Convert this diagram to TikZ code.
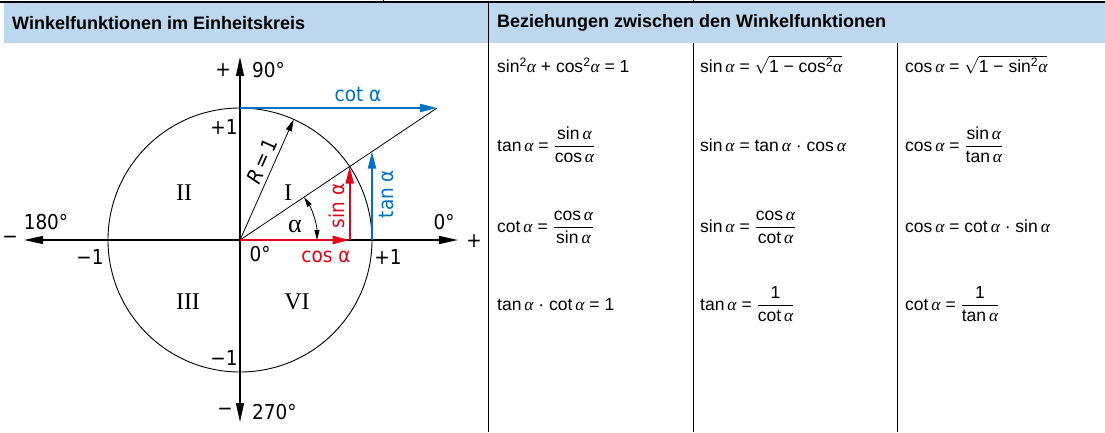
\documentclass[tikz,border=0pt]{standalone}
\usepackage{fontspec}
\setmainfont{Liberation Sans}
\newfontfamily\isofont[FakeStretch=0.9]{DejaVu Sans}
\newfontfamily\romfont{Liberation Serif}
\usetikzlibrary{arrows.meta}
\definecolor{hdrblue}{RGB}{189,215,238}
\definecolor{lineblue}{RGB}{0,112,192}
\definecolor{linered}{RGB}{226,0,26}
\newcommand{\al}{{\romfont\itshape α}}
\newcommand{\fx}[1]{#1\,\al}
\newcommand{\fr}[2]{${\displaystyle\frac{\mbox{#1}}{\mbox{#2}}}$}
\begin{document}
\begin{tikzpicture}[x=1pt,y=1pt,
  axisline/.style={line width=1.2pt,{Triangle[length=19pt,width=8pt]}-{Triangle[length=19pt,width=8pt]}},
  vec/.style={line width=2pt,-{Triangle[length=17pt,width=8pt]}},
  lbl/.style={font=\isofont\fontsize{20.5}{23}\selectfont,inner sep=0pt},
  rom/.style={font=\romfont\fontsize{24}{26}\selectfont,inner sep=0pt},
  hdr/.style={font=\bfseries\fontsize{18}{20}\selectfont,anchor=west,inner sep=0pt},
  fml/.style={font=\fontsize{17.5}{20}\selectfont,anchor=base west,inner sep=0pt},
  tablerule/.style={line width=1pt}
]
\useasboundingbox (0,0) rectangle (1105,432);
% table frame
\fill[hdrblue] (4,389) rectangle (1105,429);
\draw[line width=2pt] (0,430) -- (1105,430);
\draw[line width=1pt] (383,430) -- (383,432);
\draw[line width=1pt] (693,430) -- (693,432);
\draw[tablerule] (488,0) -- (488,431);
\draw[tablerule] (693,0) -- (693,389);
\draw[tablerule] (897,0) -- (897,389);
\node[hdr] (h1) at (12,409) {Winkelfunktionen im Einheitskreis};
\node[hdr] (h2) at (497,409) {Beziehungen zwischen den Winkelfunktionen};
% formulas
\node[fml] (f11) at (497,359) {sin\textsuperscript{2}\al{} + cos\textsuperscript{2}\al{} = 1};
\node[fml] (f12) at (700,359) {\fx{sin} = $\sqrt{\mbox{1 − cos\textsuperscript{2}\al}}$};
\node[fml] (f13) at (905,359) {\fx{cos} = $\sqrt{\mbox{1 − sin\textsuperscript{2}\al}}$};
\node[fml] (f21) at (497,281) {\fx{tan} = \fr{\fx{sin}}{\fx{cos}}};
\node[fml] (f22) at (700,281) {\fx{sin} = \fx{tan} · \fx{cos}};
\node[fml] (f23) at (905,281) {\fx{cos} = \fr{\fx{sin}}{\fx{tan}}};
\node[fml] (f31) at (497,200) {\fx{cot} = \fr{\fx{cos}}{\fx{sin}}};
\node[fml] (f32) at (700,200) {\fx{sin} = \fr{\fx{cos}}{\fx{cot}}};
\node[fml] (f33) at (905,200) {\fx{cos} = \fx{cot} · \fx{sin}};
\node[fml] (f41) at (497,122) {\fx{tan} · \fx{cot} = 1};
\node[fml] (f42) at (700,122) {\fx{tan} = \fr{1}{\fx{cot}}};
\node[fml] (f43) at (905,122) {\fx{cot} = \fr{1}{\fx{tan}}};
% unit circle
\coordinate (O) at (240,192);
\coordinate (Ytop) at (240,375);
\coordinate (Ybot) at (240,10);
\coordinate (Xl) at (24,192);
\coordinate (Xr) at (458,192);
\coordinate (Q) at (240,324);
\coordinate (C) at (437,324);
\coordinate (P) at (349.7,265.5);
\coordinate (Cx) at (349.7,192);
\coordinate (T) at (372,280.4);
\coordinate (Tx) at (372,192);
\coordinate (Rp) at (293.7,312.6);
\coordinate (A0) at (317,192);
\draw[line width=0.9pt] (O) circle[radius=132];
\draw[axisline] (Xl) -- (Xr);
\draw[axisline] (Ybot) -- (Ytop);
\draw[line width=0.8pt] (O) -- (C);
\draw[line width=0.8pt,-{Triangle[length=12pt,width=6pt]}] (O) -- (Rp);
\draw[line width=0.8pt,{Triangle[length=10pt,width=5pt]}-{Triangle[length=10pt,width=5pt]}] (A0) arc[start angle=0,end angle=33.8,radius=77];
\draw[vec,lineblue] (Q) -- (C);
\draw[vec,linered] (O) -- (Cx);
\draw[vec,linered] (Cx) -- (P);
\draw[vec,lineblue] (Tx) -- (T);
% labels
\node[lbl] (plusT) at (223,362) {+};
\node[lbl,anchor=west] (d90) at (252,362) {90°};
\node[lbl,text=lineblue] (cotl) at (358,338) {cot α};
\node[lbl] (p1t) at (224,305) {+1};
\node[lbl,rotate=66] (Rl) at (262,271) {{\itshape R}\,=\,1};
\node[rom] (q2) at (184,239) {II};
\node[rom] (q1) at (288,239) {I};
\node[lbl,rotate=90,text=linered] (sinl) at (337,226) {sin α};
\node[lbl,rotate=90,text=lineblue] (tanl) at (386,238) {tan α};
\node[rom,font=\romfont\fontsize{26}{28}\selectfont] (alab) at (295,206) {α};
\node[lbl] (d180) at (46,210) {180°};
\node[lbl] (minL) at (10,192) {−};
\node[lbl] (d0r) at (444,210) {0°};
\node[lbl] (plusR) at (474,191) {+};
\node[lbl] (m1l) at (90,175) {−1};
\node[lbl] (d0o) at (260,178) {0°};
\node[lbl,text=linered] (cosl) at (326,175) {cos α};
\node[lbl] (p1r) at (388,175) {+1};
\node[rom] (q3) at (188,130) {III};
\node[rom] (q4) at (297,130) {VI};
\node[lbl] (m1b) at (224,74) {−1};
\node[lbl] (minB) at (225,20) {−};
\node[lbl,anchor=west] (d270) at (252,20) {270°};
\end{tikzpicture}
\end{document}
